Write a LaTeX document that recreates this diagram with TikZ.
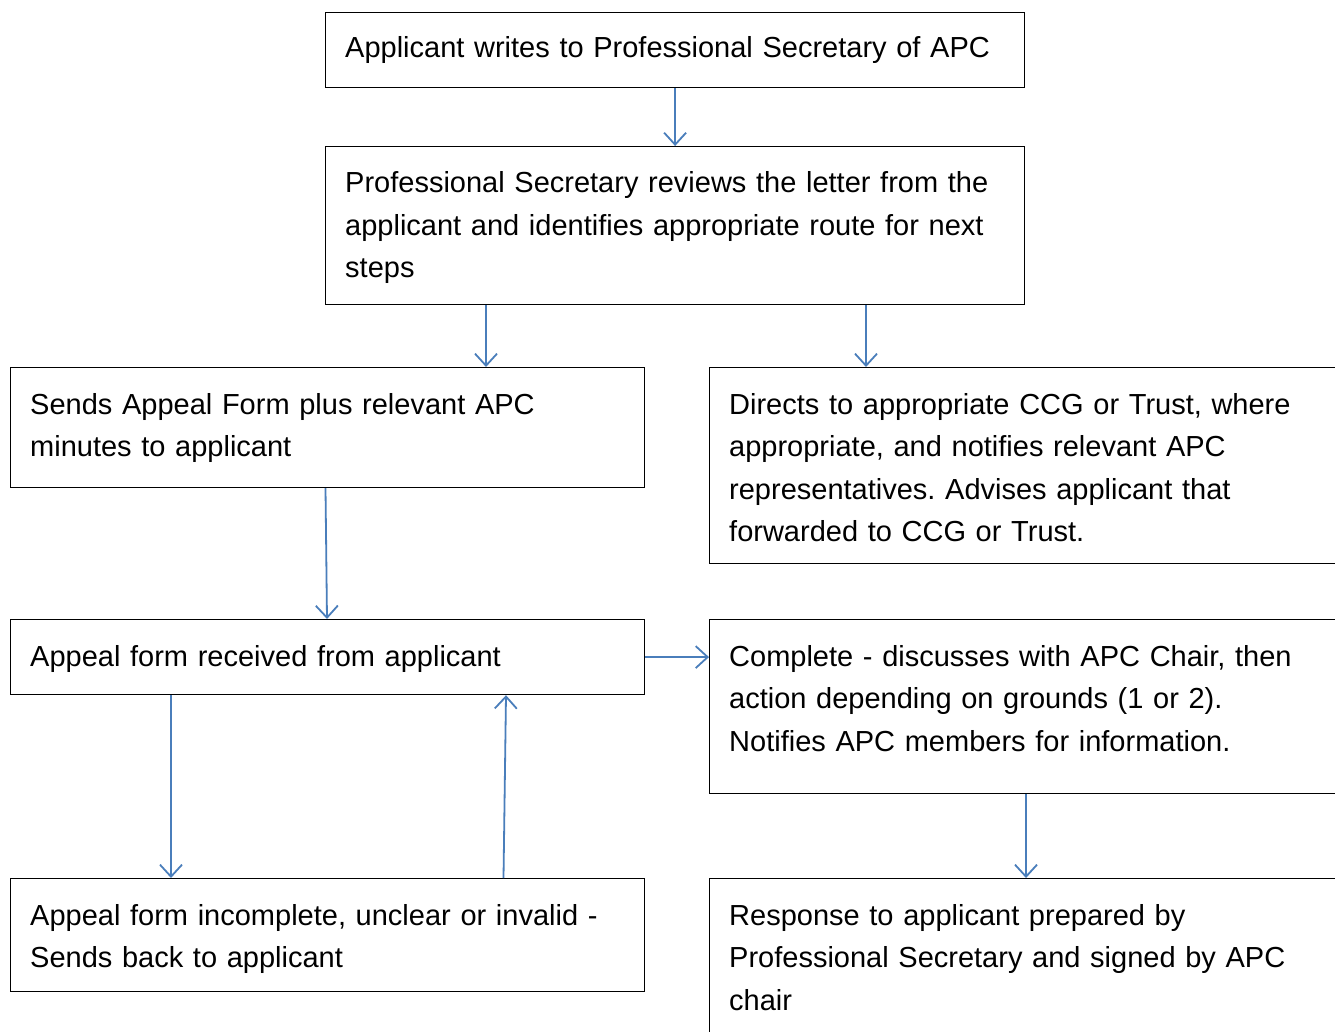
\documentclass[tikz,border=0pt]{standalone}
\usepackage{fontspec}
\setmainfont{Liberation Sans}
\usetikzlibrary{arrows.meta,calc}
\definecolor{flowblue}{HTML}{4A7EBB}
\tikzset{
  stepbox/.style={draw=black, line width=1.2pt, rectangle, inner sep=0pt, anchor=north west},
  boxtext/.style={anchor=base west, inner sep=0pt, align=left, text width=720pt,
    font=\fontsize{29}{42.5}\selectfont\frenchspacing},
  flow/.style={draw=flowblue, line width=1.8pt,
    -{Straight Barb[length=12pt,width=22pt,line width=1.8pt]}}
}
\begin{document}
\begin{tikzpicture}[x=1pt,y=-1pt]
\useasboundingbox (0,0) rectangle (1335,1032);
\clip (0,0) rectangle (1335,1032);
\fill[white] (0,0) rectangle (1335,1032);

% boxes
\node[stepbox, minimum width=699pt, minimum height=75pt]  (b1) at (325,12)  {};
\node[stepbox, minimum width=699pt, minimum height=158pt] (b2) at (325,146) {};
\node[stepbox, minimum width=634pt, minimum height=120pt] (b3) at (10,367)  {};
\node[stepbox, minimum width=640pt, minimum height=196pt] (b4) at (709,367) {};
\node[stepbox, minimum width=634pt, minimum height=75pt]  (b5) at (10,619)  {};
\node[stepbox, minimum width=640pt, minimum height=174pt] (b6) at (709,619) {};
\node[stepbox, minimum width=634pt, minimum height=113pt] (b7) at (10,878)  {};
\node[stepbox, minimum width=640pt, minimum height=180pt] (b8) at (709,878) {};

% texts
\node[boxtext] (t1) at (345,57.5) {Applicant writes to Professional Secretary of APC};
\node[boxtext] (t2) at (345,193) {Professional Secretary reviews the letter from the\\applicant and identifies appropriate route for next\\steps};
\node[boxtext] (t3) at (30,414) {Sends Appeal Form plus relevant APC\\minutes to applicant};
\node[boxtext] (t4) at (729,414) {Directs to appropriate CCG or Trust, where\\appropriate, and notifies relevant APC\\representatives. Advises applicant that\\forwarded to CCG or Trust.};
\node[boxtext] (t5) at (30,666) {Appeal form received from applicant};
\node[boxtext] (t6) at (729,666) {Complete - discusses with APC Chair, then\\action depending on grounds (1 or 2).\\Notifies APC members for information.};
\node[boxtext] (t7) at (30,925) {Appeal form incomplete, unclear or invalid -\\Sends back to applicant};
\node[boxtext] (t8) at (729,925) {Response to applicant prepared by\\Professional Secretary and signed by APC\\chair};

% connectors
\draw[flow] (b1.south) -- (b2.north);
\draw[flow] ($(b2.south west)+(161,0)$) coordinate (p2) -- (p2 |- b3.north);
\draw[flow] ($(b2.south west)+(541,0)$) coordinate (p3) -- (p3 |- b4.north);
\draw[flow] ($(b3.south west)+(315.5,0)$) -- ($(b5.north west)+(317,0)$);
\draw[flow] (b5.east) -- (b5.east -| b6.west);
\draw[flow] ($(b5.south west)+(161,0)$) coordinate (p6) -- (p6 |- b7.north);
\draw[flow] ($(b7.north west)+(493.5,0)$) -- ($(b5.south west)+(496,0)$);
\draw[flow] ($(b6.south west)+(317,0)$) coordinate (p8) -- (p8 |- b8.north);
\end{tikzpicture}
\end{document}
